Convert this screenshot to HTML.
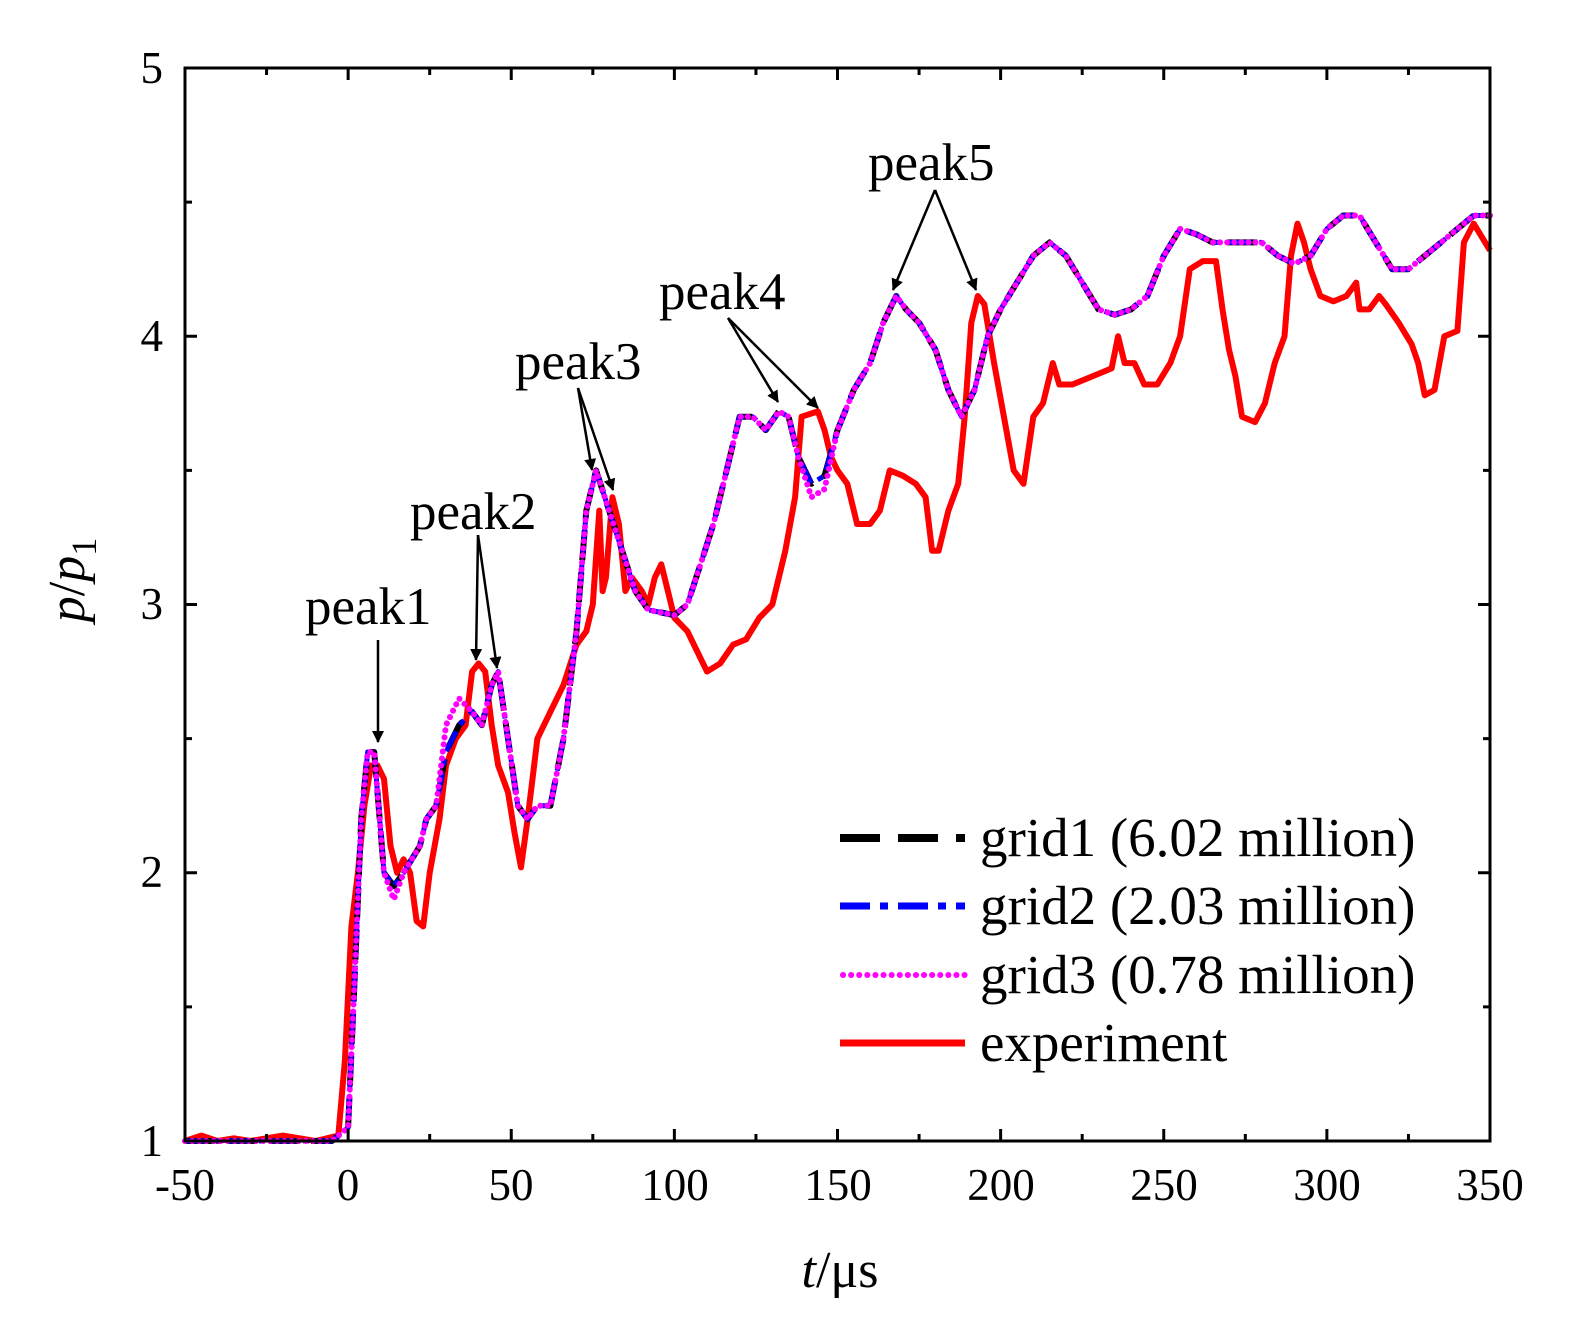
<!DOCTYPE html>
<html><head><meta charset="utf-8">
<style>
body{margin:0;background:#fff;}
svg{display:block;font-family:"Liberation Serif","DejaVu Serif",serif;}
</style></head>
<body>
<svg id="s" width="1574" height="1323" xmlns="http://www.w3.org/2000/svg">
<defs>
<marker id="ah" markerWidth="12" markerHeight="12" refX="11" refY="6" orient="auto" markerUnits="userSpaceOnUse" viewBox="0 0 12 12">
<path d="M0,0 L12,6 L0,12 z" fill="#000"/>
</marker>
</defs>
<rect width="1574" height="1323" fill="#fff"/>
<g id="plot"></g>
<rect x="185" y="68" width="1305" height="1073" fill="none" stroke="#000" stroke-width="3"/>
<g id="ticks" stroke="#000" stroke-width="3"></g>
<g font-size="45" text-anchor="middle" fill="#000">
<text x="185" y="1200">-50</text><text x="348" y="1200">0</text><text x="511" y="1200">50</text>
<text x="675" y="1200">100</text><text x="838" y="1200">150</text><text x="1001" y="1200">200</text>
<text x="1164" y="1200">250</text><text x="1327" y="1200">300</text><text x="1490" y="1200">350</text>
</g>
<g font-size="45" text-anchor="end" fill="#000">
<text x="163" y="1156">1</text><text x="163" y="887">2</text><text x="163" y="619">3</text>
<text x="163" y="351">4</text><text x="163" y="83">5</text>
</g>
<text x="840" y="1287" font-size="52" text-anchor="middle"><tspan font-style="italic">t</tspan>/μs</text>
<text transform="translate(84,580) rotate(-90)" font-size="52" text-anchor="middle"><tspan font-style="italic">p</tspan>/<tspan font-style="italic">p</tspan><tspan font-size="36" dy="12">1</tspan></text>
<g font-size="53" fill="#000">
<text x="305" y="624">peak1</text>
<text x="410" y="529">peak2</text>
<text x="515" y="379">peak3</text>
<text x="659" y="309">peak4</text>
<text x="868" y="180">peak5</text>
</g>
<g stroke="#000" stroke-width="2.5" marker-end="url(#ah)">
<line x1="378" y1="640" x2="378" y2="742"/>
<line x1="478" y1="535" x2="476" y2="660"/>
<line x1="478" y1="535" x2="497" y2="668"/>
<line x1="578" y1="388" x2="592" y2="470"/>
<line x1="578" y1="388" x2="613" y2="490"/>
<line x1="728" y1="318" x2="778" y2="402"/>
<line x1="728" y1="318" x2="818" y2="408"/>
<line x1="935" y1="190" x2="893" y2="290"/>
<line x1="935" y1="190" x2="976" y2="290"/>
</g>
<g>
<line x1="840" y1="838" x2="965" y2="838" stroke="#000" stroke-width="8" stroke-dasharray="40,18"/>
<line x1="840" y1="906" x2="965" y2="906" stroke="#0000ff" stroke-width="7" stroke-dasharray="30,10,8,10"/>
<line x1="843" y1="975" x2="965" y2="975" stroke="#ff00ff" stroke-width="6" stroke-dasharray="0.1,8" stroke-linecap="round"/>
<line x1="840" y1="1043" x2="965" y2="1043" stroke="#ff0000" stroke-width="7"/>
</g>
<g font-size="55" fill="#000">
<text x="980" y="856">grid1 (6.02 million)</text>
<text x="980" y="924">grid2 (2.03 million)</text>
<text x="980" y="993">grid3 (0.78 million)</text>
<text x="980" y="1061">experiment</text>
</g>
</svg>
<script>
function X(t){return 185+(t+50)*3.2625;}
function Y(p){return 1141-(p-1)*268.25;}
var sim=[-50,1,-5,1,0,1.05,2,1.6,4,2.2,6,2.45,8,2.45,9,2.3,11,2.0,14,1.95,17,2.0,22,2.1,24,2.2,27,2.25,30,2.45,34,2.55,38,2.6,41,2.55,44,2.7,46,2.75,49,2.5,52,2.25,55,2.2,58,2.25,62,2.25,66,2.5,70,2.9,73,3.35,76,3.5,80,3.35,84,3.2,88,3.05,92,2.98,96,2.97,100,2.96,104,3.0,108,3.15,112,3.3,116,3.5,120,3.7,124,3.7,128,3.65,132,3.72,135,3.7,138,3.55,142,3.45,146,3.48,150,3.65,155,3.8,160,3.9,164,4.05,168,4.15,171,4.1,175,4.05,180,3.95,184,3.8,188,3.7,192,3.8,196,4.0,200,4.1,205,4.2,210,4.3,215,4.35,220,4.3,225,4.2,230,4.1,235,4.08,240,4.1,245,4.15,250,4.3,255,4.4,260,4.38,265,4.35,270,4.35,275,4.35,280,4.35,285,4.3,290,4.27,295,4.3,300,4.4,305,4.45,310,4.45,315,4.35,320,4.25,325,4.25,330,4.3,335,4.35,340,4.4,345,4.45,350,4.45];
var exp=[-50,1,-45,1.02,-40,1,-35,1.01,-30,1,-20,1.02,-10,1,-3,1.02,-1,1.3,1,1.8,3,2.0,5,2.25,7,2.4,9,2.4,11,2.35,13,2.1,15,2.0,17,2.05,19,2.0,21,1.82,23,1.8,25,2.0,28,2.2,30,2.4,33,2.5,36,2.55,38,2.75,40,2.78,42,2.75,44,2.55,46,2.4,49,2.3,51,2.15,53,2.02,55,2.2,58,2.5,62,2.6,66,2.7,70,2.85,73,2.9,75,3.0,77,3.35,78,3.05,79,3.1,81,3.4,83,3.3,85,3.05,87,3.1,90,3.05,92,3.0,94,3.1,96,3.15,98,3.05,100,2.95,104,2.9,108,2.8,110,2.75,114,2.78,118,2.85,122,2.87,126,2.95,130,3.0,134,3.2,137,3.4,139,3.7,144,3.72,146,3.65,148,3.55,150,3.5,153,3.45,156,3.3,160,3.3,163,3.35,166,3.5,170,3.48,174,3.45,177,3.4,179,3.2,181,3.2,184,3.35,187,3.45,189,3.7,191,4.05,193,4.15,195,4.12,198,3.9,201,3.7,204,3.5,207,3.45,210,3.7,213,3.75,216,3.9,218,3.82,222,3.82,228,3.85,234,3.88,236,4.0,238,3.9,241,3.9,244,3.82,248,3.82,252,3.9,255,4.0,258,4.25,262,4.28,266,4.28,268,4.1,270,3.95,272,3.85,274,3.7,278,3.68,281,3.75,284,3.9,287,4.0,289,4.3,291,4.42,293,4.35,295,4.25,298,4.15,302,4.13,306,4.15,309,4.2,310,4.1,313,4.1,316,4.15,318,4.12,322,4.05,326,3.97,328,3.9,330,3.78,333,3.8,336,4.0,340,4.02,342,4.35,345,4.42,350,4.32];
function path(a,dp){var d="";for(var i=0;i<a.length;i+=2){var p=a[i+1]+(dp?dp(a[i],a[i+1]):0);d+=(i?"L":"M")+X(a[i]).toFixed(1)+","+Y(p).toFixed(1);}return d;}
var NS="http://www.w3.org/2000/svg",g=document.getElementById("plot");
function add(d,c,w,da,cap){var e=document.createElementNS(NS,"path");e.setAttribute("d",d);e.setAttribute("fill","none");e.setAttribute("stroke",c);e.setAttribute("stroke-width",w);e.setAttribute("stroke-linejoin","round");if(cap)e.setAttribute("stroke-linecap",cap);if(da)e.setAttribute("stroke-dasharray",da);g.appendChild(e);}
add(path(exp),"#ff0000",6);
add(path(sim),"#000",6,"30,12");
add(path(sim),"#0000ff",5,"22,8,6,8");
add(path(sim,function(t,p){if(t>=30&&t<=36)return 0.1;if(t>=142&&t<=146)return -0.05;if(t>=12&&t<=14)return -0.05;return 0;}),"#ff00ff",6,"0.1,7","round");
var tk=document.getElementById("ticks"),s="";
for(var t=-50;t<=350;t+=25){var x=X(t),L=(t%50==0)?12:7;s+='<line x1="'+x+'" y1="1141" x2="'+x+'" y2="'+(1141-L)+'"/><line x1="'+x+'" y1="68" x2="'+x+'" y2="'+(68+L)+'"/>';}
for(var p=1;p<=5;p+=0.5){var y=Y(p),L=(p%1==0)?12:7;s+='<line x1="185" y1="'+y+'" x2="'+(185+L)+'" y2="'+y+'"/><line x1="1490" y1="'+y+'" x2="'+(1490-L)+'" y2="'+y+'"/>';}
tk.innerHTML=s;
</script>
</body></html>
